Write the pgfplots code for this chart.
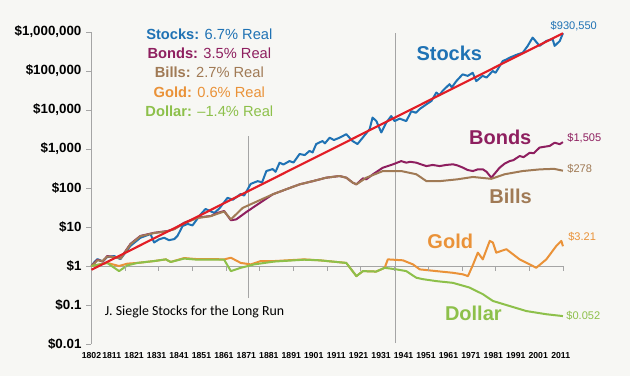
\documentclass[border=0pt]{standalone}
\usepackage{fontspec}
\setmainfont{Liberation Sans}
\newfontfamily\calibri{Carlito}
\usepackage{pgfplots}
\pgfplotsset{compat=1.18}
\definecolor{cStocks}{RGB}{31,114,180}
\definecolor{cBonds}{RGB}{142,31,95}
\definecolor{cBills}{RGB}{160,122,85}
\definecolor{cGold}{RGB}{234,146,56}
\definecolor{cDollar}{RGB}{141,192,74}
\definecolor{cRed}{RGB}{226,30,38}
\definecolor{cBg}{RGB}{247,247,244}
\definecolor{cAxis}{RGB}{165,165,165}
\begin{document}
\begin{tikzpicture}
\fill[cBg] (-68.6pt,-24pt) rectangle (403.9pt,258pt);
\useasboundingbox (-68.6pt,-24pt) rectangle (403.9pt,258pt);
\begin{axis}[
  at={(0,0)}, anchor=south west, scale only axis,
  width=353.6pt, height=234pt,
  xmin=1802, xmax=2012, ymin=0.01, ymax=1e6, ymode=log,
  clip=false,
  axis y line*=left, axis x line*=bottom,
  x axis line style={draw=none},
  y axis line style={cAxis, line width=0.6pt, -},
  xtick={1802,1811,1821,1831,1841,1851,1861,1871,1881,1891,1901,1911,1921,1931,1941,1951,1961,1971,1981,1991,2001,2011},
  xticklabels={1802,1811,1821,1831,1841,1851,1861,1871,1881,1891,1901,1911,1921,1931,1941,1951,1961,1971,1981,1991,2001,2011},
  x tick style={draw=none},
  xticklabel style={font=\bfseries\fontsize{6.5}{7}\selectfont, yshift=1pt},
  ytick={0.01,0.1,1,10,100,1000,10000,100000,1000000},
  yticklabels={\$0.01,\$0.1,\$1,\$10,\$100,{\$1,000},{\$10,000},{\$100,000},{\$1,000,000}},
  yticklabel style={font=\bfseries\fontsize{10}{12}\selectfont},
  y tick style={cAxis, line width=0.6pt},
  yminorticks=false, tick align=outside, major tick length=4pt,
]
% reference lines
\addplot[cAxis, line width=0.6pt] coordinates {(1872,0.15) (1872,2150)};
\addplot[cAxis, line width=0.6pt] coordinates {(1937.5,0.0105) (1937.5,9.4e5)};
\addplot[cAxis, line width=0.6pt] coordinates {(1802,1) (2012,1)};
\addplot[cAxis, line width=0.6pt, only marks, mark=|, mark size=2pt, mark options={yshift=-2pt}] coordinates {
(1817,1) (1832,1) (1847,1) (1862,1) (1877,1) (1892,1) (1907,1) (1922,1) (1937,1) (1952,1) (1967,1) (1982,1) (1997,1) (2012,1)};
% Stocks
\addplot[cStocks, line width=1.5pt, line join=round] coordinates {
(1802,1.0) (1803.5,1.3) (1804.7,1.5) (1807,1.3) (1809,1.7) (1812.1,1.8) (1814.9,1.5) (1819.4,3.3) (1823.8,5.3) (1828.3,6.6) (1829.9,4.0) (1832,4.8) (1834.4,5.3) (1836.5,4.6) (1838.9,4.9) (1840.3,5.9) (1842.6,10.6) (1844.8,12) (1847,11) (1850.6,21) (1852.8,29) (1856.7,23) (1859,30) (1862.6,56) (1865,50) (1868.4,70) (1870,64) (1872.9,127) (1876,150) (1878,140) (1879.9,272) (1882.7,306) (1884,260) (1885.8,446) (1887.5,400) (1890.2,490) (1892,450) (1894.7,745) (1897,700) (1899.1,890) (1900.5,820) (1902.1,1340) (1904.9,1600) (1906,1400) (1908.1,1950) (1910,1700) (1912.5,1950) (1915.5,2400) (1918.3,1600) (1920.5,1340) (1922.8,1950) (1925.9,3240) (1927.2,6400) (1928.9,5200) (1931.1,2650) (1933.3,4750) (1935.5,7000) (1937,5200) (1939.3,6000) (1942.2,5200) (1944.5,9300) (1946.5,8500) (1948.2,10600) (1951.2,14000) (1953.4,17000) (1955.6,28000) (1957,24000) (1958.4,31000) (1961.5,46000) (1962.5,38000) (1964.5,55000) (1967.3,82000) (1969.6,75000) (1971.8,90000) (1973.4,55000) (1976.2,75000) (1978,68000) (1980.7,100000) (1982,90000) (1985.2,180000) (1987,200000) (1988.3,220000) (1991.3,260000) (1994.1,295000) (1996.3,440000) (1998.5,720000) (2001.6,440000) (2004.6,590000) (2007.4,660000) (2008.3,440000) (2010.6,590000) (2012,930550)};
% Bonds
\addplot[cBonds, line width=1.5pt, line join=round] coordinates {
(1802,1) (1804.7,1.45) (1807,1.3) (1809,1.8) (1812,1.7) (1815,1.6) (1819.4,3.7) (1823.8,5.9) (1829.9,7.1) (1835.9,7.9) (1838.9,8.9) (1843.3,12.9) (1849.2,17.4) (1855.2,19.2) (1858.2,23) (1861.1,25.7) (1864.1,14.9) (1866.5,15.7) (1870.9,24) (1876,38) (1882.8,69) (1888.8,93) (1894.7,124) (1900.6,150) (1906.6,184) (1912.5,203) (1915.5,184) (1918.4,137) (1920,124) (1922.9,177) (1924.4,167) (1927.4,225) (1931.8,332) (1936.3,405) (1940,490) (1942.2,446) (1944,470) (1946.7,446) (1949,400) (1951.2,365) (1954,390) (1957.1,365) (1960,390) (1963,405) (1965,380) (1967.5,332) (1969.5,290) (1971.9,272) (1974,300) (1976.4,300) (1978,260) (1980.1,184) (1983.8,332) (1986,420) (1988.3,490) (1990,520) (1992.7,660) (1994.5,620) (1997.2,800) (1999,780) (2001.6,1090) (2006.1,1200) (2008.3,1450) (2010.6,1330) (2012,1505)};
% Bills
\addplot[cBills, line width=1.5pt, line join=round] coordinates {
(1802,1) (1804.7,1.4) (1807,1.35) (1809,1.75) (1812,1.7) (1815,1.55) (1819.4,3.6) (1823.8,5.8) (1829.9,7.0) (1835.9,7.8) (1838.9,8.8) (1843.3,12.5) (1849.2,17) (1855.2,19) (1858.2,22) (1861.1,25) (1864.1,15.7) (1869.4,31) (1876,46) (1882.8,69) (1888.8,93) (1894.7,124) (1900.6,150) (1906.6,184) (1912.5,203) (1915.5,184) (1918.4,137) (1920,124) (1924.4,184) (1931.8,272) (1936.3,272) (1940,272) (1946.7,225) (1951.2,150) (1957.1,150) (1965,167) (1971.9,192) (1980.1,172) (1986,225) (1994,272) (2001.6,300) (2008,310) (2012,278)};
% Gold
\addplot[cGold, line width=1.5pt, line join=round] coordinates {
(1802,1) (1809,1.2) (1814.3,1.0) (1818,1.15) (1822.5,1.2) (1829.9,1.34) (1835.1,1.48) (1837.3,1.27) (1843.3,1.6) (1849.2,1.5) (1856.7,1.5) (1861.1,1.48) (1864.1,1.63) (1868.5,1.2) (1873,1.1) (1877.4,1.34) (1883.4,1.34) (1896.7,1.48) (1903.6,1.4) (1915.5,1.2) (1920,0.55) (1922.9,0.74) (1928.8,0.72) (1932.6,0.9) (1934,1.48) (1940.7,1.4) (1945.2,1.1) (1948.2,0.82) (1955.6,0.74) (1963,0.67) (1967.5,0.61) (1969.7,0.55) (1972,1.1) (1974.1,2.2) (1976.3,1.48) (1979.4,4.4) (1980.8,4.0) (1982.3,2.2) (1986.8,2.7) (1992.7,1.48) (1997.2,1.1) (2000.1,0.9) (2004.6,1.48) (2009.1,3.3) (2011.3,4.4) (2012,3.21)};
% Dollar
\addplot[cDollar, line width=1.5pt, line join=round] coordinates {
(1802,1) (1809,1.2) (1814.3,0.74) (1818,1.04) (1822.5,1.2) (1829.9,1.34) (1835.1,1.48) (1837.3,1.27) (1843.3,1.55) (1849.2,1.45) (1856.7,1.45) (1861.1,1.45) (1864.1,0.74) (1868.5,0.9) (1874.5,1.1) (1883.4,1.3) (1896.7,1.45) (1903.6,1.4) (1915.5,1.2) (1920,0.55) (1922.9,0.74) (1928.8,0.72) (1932.6,0.9) (1937.8,0.82) (1942.2,0.74) (1946.7,0.5) (1949.6,0.46) (1955.6,0.41) (1963,0.37) (1970.4,0.28) (1976.3,0.19) (1980.8,0.127) (1988.3,0.094) (1995.7,0.07) (2004.6,0.058) (2012,0.052)};
% Trend
\addplot[cRed, line width=1.6pt] coordinates {(1802,0.8) (2012,930550)};
% annotations
\node[font=\fontsize{11}{13}\selectfont, text=cStocks] at (rel axis cs:0.25,0.994) {\textbf{Stocks:} 6.7\% Real};
\node[font=\fontsize{11}{13}\selectfont, text=cBonds] at (rel axis cs:0.25,0.933) {\textbf{Bonds:} 3.5\% Real};
\node[font=\fontsize{11}{13}\selectfont, text=cBills] at (rel axis cs:0.25,0.872) {\textbf{Bills:} 2.7\% Real};
\node[font=\fontsize{11}{13}\selectfont, text=cGold] at (rel axis cs:0.25,0.808) {\textbf{Gold:} 0.6\% Real};
\node[font=\fontsize{11}{13}\selectfont, text=cDollar] at (rel axis cs:0.25,0.747) {\textbf{Dollar:} \textendash1.4\% Real};
\node[font=\bfseries\fontsize{15}{17}\selectfont, text=cStocks] at (rel axis cs:0.759,0.933) {Stocks};
\node[font=\bfseries\fontsize{15}{17}\selectfont, text=cBonds] at (rel axis cs:0.867,0.663) {Bonds};
\node[font=\bfseries\fontsize{15}{17}\selectfont, text=cBills] at (rel axis cs:0.889,0.474) {Bills};
\node[font=\bfseries\fontsize{15}{17}\selectfont, text=cGold] at (rel axis cs:0.761,0.330) {Gold};
\node[font=\bfseries\fontsize{15}{17}\selectfont, text=cDollar] at (rel axis cs:0.810,0.099) {Dollar};
\node[font=\fontsize{8.3}{10}\selectfont, text=cStocks] at (rel axis cs:1.023,1.019) {\$930,550};
\node[font=\fontsize{8.3}{10}\selectfont, text=cBonds, anchor=west, inner sep=1pt] at (rel axis cs:1.006,0.660) {\$1,505};
\node[font=\fontsize{8.3}{10}\selectfont, text=cBills, anchor=west, inner sep=1pt] at (rel axis cs:1.006,0.561) {\$278};
\node[font=\fontsize{8.3}{10}\selectfont, text=cGold, anchor=west, inner sep=1pt] at (rel axis cs:1.008,0.343) {\$3.21};
\node[font=\fontsize{8.3}{10}\selectfont, text=cDollar, anchor=west, inner sep=1pt] at (rel axis cs:1.004,0.090) {\$0.052};
\node[font=\calibri\fontsize{10.4}{12}\selectfont, anchor=west, inner sep=0pt] at (rel axis cs:0.028,0.103) {J. Siegle Stocks for the Long Run};
\end{axis}
\end{tikzpicture}
\end{document}
